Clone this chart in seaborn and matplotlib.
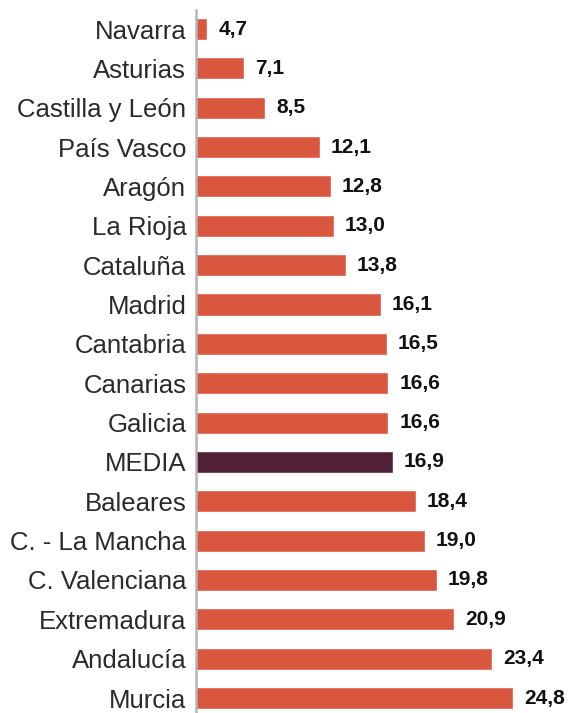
import matplotlib
matplotlib.use('Agg')
from matplotlib import pyplot as plt
import seaborn as sns
import pandas as pd

# data
regions = ['Navarra', 'Asturias', 'Castilla y León', 'País Vasco', 'Aragón',
           'La Rioja', 'Cataluña', 'Madrid', 'Cantabria', 'Canarias', 'Galicia',
           'MEDIA', 'Baleares', 'C. - La Mancha', 'C. Valenciana', 'Extremadura',
           'Andalucía', 'Murcia']
values = [4.7, 7.1, 8.5, 12.1, 12.8, 13.0, 13.8, 16.1, 16.5, 16.6, 16.6,
          16.9, 18.4, 19.0, 19.8, 20.9, 23.4, 24.8]

bar_color = '#d9573f'
media_color = '#502036'

sns.set_style('white')
plt.rcParams['font.family'] = ['Liberation Sans', 'DejaVu Sans']

df = pd.DataFrame({'region': regions, 'value': values})
palette = {r: (media_color if r == 'MEDIA' else bar_color) for r in regions}

fig = plt.figure(figsize=(5.71, 7.13), dpi=100)
ax = fig.add_axes([196 / 571, 0, 375 / 571, 703 / 713])

sns.barplot(data=df, x='value', y='region', hue='region', palette=palette,
            orient='h', width=0.56, legend=False, ax=ax, saturation=1)

ax.set_xlim(3.95, 28.62)
ax.set_ylim(17.38, -0.483)

# value labels with decimal comma
for cont in ax.containers:
    labels = [f'{v:.1f}'.replace('.', ',') for v in cont.datavalues]
    ax.bar_label(cont, labels=labels, padding=8, fontsize=15,
                 fontweight='bold', color='#111111', clip_on=False)

ax.set_xlabel('')
ax.set_ylabel('')
ax.set_xticks([])
ax.tick_params(axis='y', length=0, pad=7, labelsize=18.5, labelcolor='#2a2a2a')

for s in ['top', 'right', 'bottom']:
    ax.spines[s].set_visible(False)
ax.spines['left'].set_color('#b5b5b5')
ax.spines['left'].set_linewidth(1.8)

plt.savefig('out.png', dpi=100)
plt.close()
